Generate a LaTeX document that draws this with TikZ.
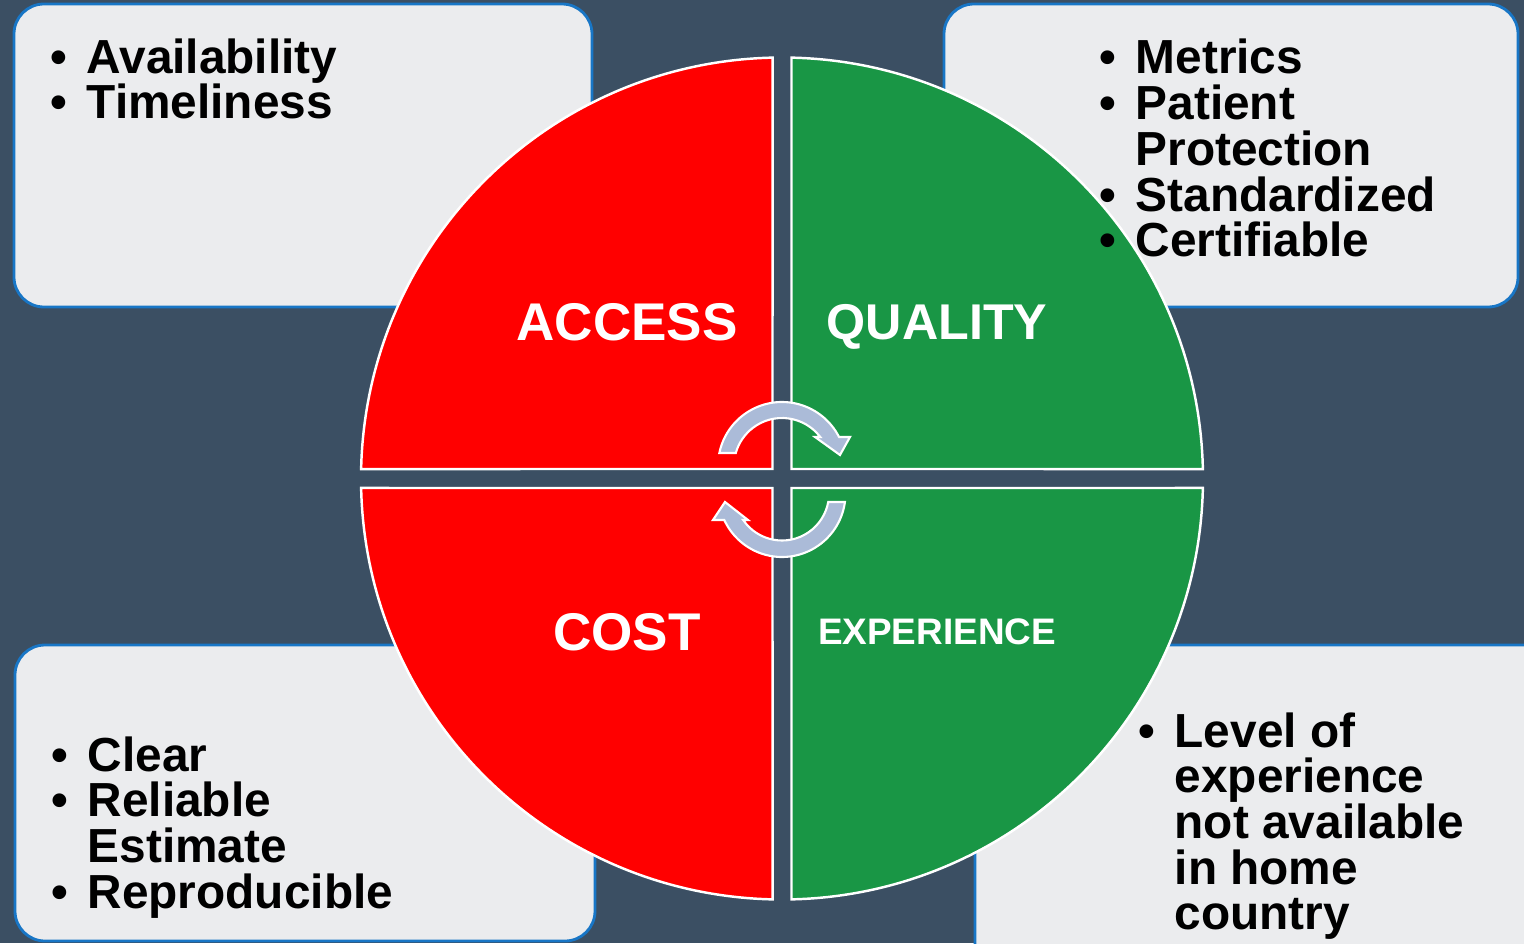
\documentclass[tikz,border=0pt]{standalone}
\usepackage{fontspec}
\setmainfont{Liberation Sans}
\usetikzlibrary{calc}

\definecolor{slate}{RGB}{59,79,99}
\definecolor{boxgrey}{RGB}{235,236,238}
\definecolor{boxblue}{RGB}{24,118,198}
\definecolor{accessred}{RGB}{255,0,0}
\definecolor{qualgreen}{RGB}{25,150,69}
\definecolor{cycleblue}{RGB}{171,187,216}

\newcommand{\itm}{\makebox[0.36cm][l]{\textbullet}}
\newcommand{\gap}{\hspace*{0.36cm}}
\newcommand{\blist}[1]{\parbox[t]{6cm}{\raggedright #1}}

\begin{document}
\begin{tikzpicture}[
    infobox/.style={fill=boxgrey, draw=boxblue, line width=0.8pt, rounded corners=0.3cm},
    quadrant/.style={draw=white, line width=0.7pt},
    cyclearrow/.style={fill=cycleblue, draw=white, line width=0.6pt},
    listtext/.style={inner sep=0pt, anchor=base west, font=\fontsize{13.6}{13.0}\selectfont\bfseries},
    biglabel/.style={inner sep=0pt, text depth=0pt, text=white, font=\fontsize{15.1}{16}\selectfont\bfseries},
    smalllabel/.style={inner sep=0pt, text depth=0pt, text=white, font=\fontsize{10.5}{12}\selectfont\bfseries}
  ]
					\useasboundingbox (0,0) rectangle (15.24,9.43);
					\clip (0,0) rectangle (15.24,9.43);
					\fill[slate] (0,0) rectangle (15.24,9.43);

					% Centre of the circle and of the two turning arrows
					\coordinate (O) at (7.82,4.645);
					\coordinate (C1) at (7.82,4.77);
					\coordinate (C2) at (7.82,4.495);
					\def\R{4.21}

					% Corner boxes, put in first so that the circle covers them
					\draw[infobox] (0.14,9.39) rectangle (5.92,6.36);
					\draw[infobox] (9.44,9.39) rectangle (15.18,6.36);
					\draw[infobox] (0.15,2.98) rectangle (5.95,0.02);
					\draw[infobox] (9.75,2.98) rectangle (15.70,-0.50);

					% The four quarters of the circle
					\draw[quadrant, fill=accessred] ($(O)+(-0.095,0.095)$) -- ($(O)+(91.29:\R)$) arc[start angle=91.29, end angle=178.71, radius=\R] -- cycle;
					\draw[quadrant, fill=qualgreen] ($(O)+(0.095,0.095)$) -- ($(O)+(88.71:\R)$) arc[start angle=88.71, end angle=1.29, radius=\R] -- cycle;
					\draw[quadrant, fill=accessred] ($(O)+(-0.095,-0.095)$) -- ($(O)+(268.71:\R)$) arc[start angle=268.71, end angle=181.29, radius=\R] -- cycle;
					\draw[quadrant, fill=qualgreen] ($(O)+(0.095,-0.095)$) -- ($(O)+(271.29:\R)$) arc[start angle=271.29, end angle=358.71, radius=\R] -- cycle;

					% Turning arrows in the middle
					\filldraw[cyclearrow] ($(C1)+(168.3:0.64)$) arc[start angle=168.3, end angle=26.9, radius=0.64]
						-- (8.50,5.06) -- (8.40,4.88) -- (8.15,5.06)
						-- ($(C1)+(37.2:0.48)$) arc[start angle=37.2, end angle=164.3, radius=0.48] -- cycle;
					\filldraw[cyclearrow] ($(C2)+(-7.7:0.635)$) arc[start angle=-7.7, end angle=-155.3, radius=0.635]
						-- (7.13,4.23) -- (7.25,4.41) -- (7.48,4.23)
						-- ($(C2)+(-145.7:0.47)$) arc[start angle=-145.7, end angle=-10.4, radius=0.47] -- cycle;

					% Names of the quarters
					\node[biglabel] (access) at ($(O)+(-1.55,1.565)$) {ACCESS};
					\node[biglabel, font=\fontsize{14.3}{16}\selectfont\bfseries] (quality) at ($(O)+(1.55,1.565)$) {QUALITY};
					\node[biglabel] (cost) at ($(O)+(-1.55,-1.535)$) {COST};
					\node[smalllabel] (experience) at ($(O)+(1.55,-1.535)$) {EXPERIENCE};

					% Lists in the corner boxes
					\node[listtext] (accesslist) at (0.50,8.70) {\blist{\itm Availability\\ \itm Timeliness}};
					\node[listtext] (qualitylist) at (10.99,8.69) {\blist{\itm Metrics\\ \itm Patient\\ \gap Protection\\ \itm Standardized\\ \itm Certifiable}};
					\node[listtext] (costlist) at (0.51,1.72) {\blist{\itm Clear\\ \itm Reliable\\ \gap Estimate\\ \itm Reproducible}};
					\node[listtext] (experiencelist) at (11.38,1.96) {\blist{\itm Level of\\ \gap experience\\ \gap not available\\ \gap in home\\ \gap country}};
				\end{tikzpicture}
\end{document}
